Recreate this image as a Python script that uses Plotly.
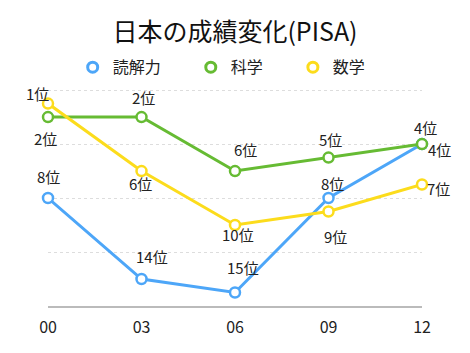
import plotly.graph_objects as go

years = ["00", "03", "06", "09", "12"]
reading = [8, 14, 15, 8, 4]
science = [2, 2, 6, 5, 4]
math = [1, 6, 10, 9, 7]

# label offsets (pixels) relative to each point
reading_off = [(0, 22), (10, 23), (8, 25), (4, 15), (3, 17)]
science_off = [(-3, -21), (2, 20), (10, 22), (2, 18), (17, -5)]
math_off = [(-11, 10), (-1, -12), (3, -9), (7, -25), (16, -4)]

series = [
    ("読解力", reading, "#4da6f8", reading_off),
    ("科学", science, "#66bb33", science_off),
    ("数学", math, "#fcdc1c", math_off),
]

FONT = "Noto Sans CJK JP, sans-serif"
xs = list(range(len(years)))
PAD = "\u00a0" * 7

fig = go.Figure()
for name, vals, color, off in series:
    fig.add_trace(go.Scatter(
        x=xs, y=vals, mode="lines+markers", name=name,
        line=dict(color=color, width=3),
        marker=dict(symbol="circle", size=10, color="white", line=dict(color=color, width=2.5)),
        showlegend=False, cliponaxis=False,
    ))
    for x, v, (dx, dy) in zip(xs, vals, off):
        fig.add_annotation(x=x, y=v, text=f"{v}位", showarrow=False,
                           xshift=dx, yshift=dy,
                           font=dict(size=15, color="#222", family=FONT))
for name, vals, color, off in series:
    fig.add_trace(go.Scatter(
        x=[None], y=[None], mode="markers", name=name + PAD,
        marker=dict(symbol="circle", size=10, color="white", line=dict(color=color, width=3)),
    ))

fig.update_layout(
    width=470, height=353,
    margin=dict(l=48, r=48, t=89, b=47),
    paper_bgcolor="white", plot_bgcolor="white",
    font=dict(family=FONT, color="#222"),
    title=dict(text="日本の成績変化(PISA)", x=0.5, xanchor="center", y=0.91, yanchor="middle",
               font=dict(size=25, color="#111", family=FONT)),
    legend=dict(orientation="h", x=0.066, xanchor="left", y=1.1, yanchor="middle",
                font=dict(size=16, family=FONT), itemwidth=30),
    xaxis=dict(tickmode="array", tickvals=xs, ticktext=years, range=[0, 4],
               showgrid=False, zeroline=False, showline=True, linecolor="#bbb", linewidth=1.5,
               tickfont=dict(size=16, color="#222"), ticks="", ticklabelstandoff=6),
    yaxis=dict(range=[16, -0.08], tickvals=[0, 4, 8, 12], showticklabels=False,
               showgrid=True, gridcolor="#ddd", griddash="dot", gridwidth=1, zeroline=False),
)

fig.write_html("out.html")
